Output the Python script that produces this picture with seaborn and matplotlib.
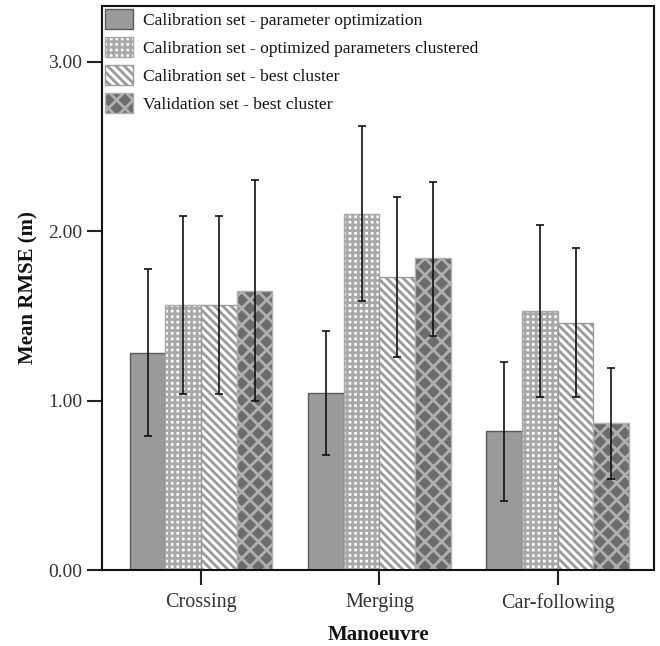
import numpy as np
import pandas as pd
import matplotlib
matplotlib.use("Agg")
import matplotlib.pyplot as plt
import seaborn as sns

# Data
manoeuvres = ["Crossing", "Merging", "Car-following"]
sets = [
    "Calibration set - parameter optimization",
    "Calibration set - optimized parameters clustered",
    "Calibration set - best cluster",
    "Validation set - best cluster",
]
mean_rmse = {
    sets[0]: [1.28, 1.045, 0.82],
    sets[1]: [1.565, 2.10, 1.53],
    sets[2]: [1.565, 1.73, 1.46],
    sets[3]: [1.65, 1.84, 0.87],
}
ci_low = {
    sets[0]: [0.79, 0.68, 0.41],
    sets[1]: [1.04, 1.59, 1.02],
    sets[2]: [1.04, 1.26, 1.02],
    sets[3]: [1.00, 1.38, 0.54],
}
ci_high = {
    sets[0]: [1.78, 1.41, 1.23],
    sets[1]: [2.09, 2.62, 2.04],
    sets[2]: [2.09, 2.20, 1.90],
    sets[3]: [2.30, 2.29, 1.19],
}

rows = []
for s in sets:
    for i, m in enumerate(manoeuvres):
        rows.append({"Manoeuvre": m, "Set": s, "RMSE": mean_rmse[s][i]})
df = pd.DataFrame(rows)

# Style
sns.set_style("ticks")
plt.rcParams["font.family"] = ["Liberation Serif", "DejaVu Serif"]
plt.rcParams["hatch.linewidth"] = 2.0

face = ["#9a9a9a", "#ffffff", "#ffffff", "#6c6c6c"]
edge = ["#5a5a5a", "#a8a8a8", "#9a9a9a", "#b0b0b0"]
hatches = [None, "+++", "\\\\\\\\", "xx"]

fig = plt.figure(figsize=(6.6, 6.46), dpi=100)
ax = fig.add_axes([0.1545, 0.1176, 0.8365, 0.8731])

sns.barplot(data=df, x="Manoeuvre", y="RMSE", hue="Set", order=manoeuvres,
            hue_order=sets, palette=face, errorbar=None, width=0.8,
            saturation=1, ax=ax)

bar_conts = list(ax.containers)
for k, cont in enumerate(bar_conts):
    for p in cont.patches:
        p.set_facecolor(face[k])
        p.set_edgecolor(edge[k])
        p.set_linewidth(1.0)
        if hatches[k]:
            p.set_hatch(hatches[k])
    xs = [p.get_x() + p.get_width() / 2 for p in cont.patches]
    s = sets[k]
    y = np.array(mean_rmse[s])
    yerr = [y - np.array(ci_low[s]), np.array(ci_high[s]) - y]
    ax.errorbar(xs, y, yerr=yerr, fmt="none", ecolor="#111111",
                elinewidth=1.2, capsize=3, capthick=1.2, zorder=5)

ax.set_xlim(-0.556, 2.54)
ax.set_ylim(0, 3.33)
ax.set_yticks([0, 1, 2, 3])
ax.set_yticklabels(["0.00", "1.00", "2.00", "3.00"])

for sp in ax.spines.values():
    sp.set_visible(True)
    sp.set_linewidth(1.5)
    sp.set_color("#111111")

ax.tick_params(axis="both", direction="out", length=10.5, width=1.5,
               color="#222222", labelcolor="#333333")
ax.tick_params(axis="y", labelsize=14)
ax.tick_params(axis="x", labelsize=14.5, pad=6)

ax.set_xlabel("Manoeuvre", fontsize=15, fontweight="bold", labelpad=9,
              color="#111111")
ax.set_ylabel("Mean RMSE (m)", fontsize=15, fontweight="bold", labelpad=7,
              color="#111111")

leg = ax.legend(bar_conts, sets, loc="upper left", frameon=False,
                fontsize=12.6, borderaxespad=0.05, borderpad=0.1,
                handlelength=1.6, handleheight=1.4, handletextpad=0.6,
                labelspacing=0.45)
for t in leg.get_texts():
    t.set_color("#111111")

fig.savefig("out.png", dpi=100)
